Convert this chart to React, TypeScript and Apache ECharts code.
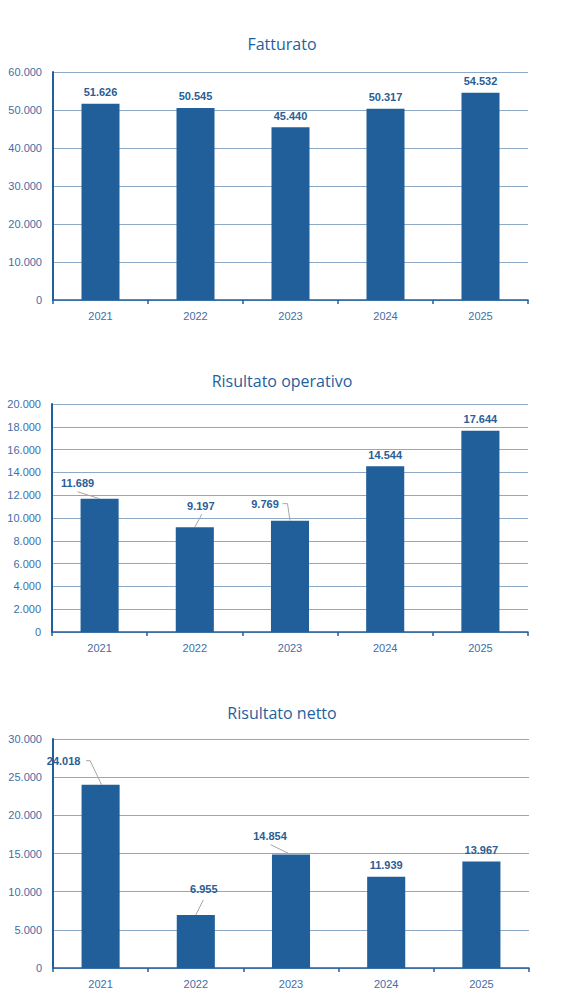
import React, { useEffect, useRef } from "react";
import * as echarts from "echarts";

const years = ["2021", "2022", "2023", "2024", "2025"];
const fatturato = [51626, 50545, 45440, 50317, 54532];
const risultatoOperativo = [11689, 9197, 9769, 14544, 17644];
const risultatoNetto = [24018, 6955, 14854, 11939, 13967];
const titles = ["Fatturato", "Risultato operativo", "Risultato netto"];
const axisMax = [60000, 20000, 30000];
const axisInterval = [10000, 2000, 5000];

// label offsets (dx, dy) for moved labels; null = default position
const labelOffsets: (number[] | null)[][] = [
  [null, null, null, null, null],
  [[-22, -4], [6, -10], [-25, -5], null, null],
  [[-37, -12], [8, -14], [-21, -7], null, null],
];
// leader line points, relative to the bar's top centre
const leaderPoints: (number[][] | null)[][] = [
  [null, null, null, null, null],
  [[[-22, -7], [0, 0]], [[7, -13], [0, 0]], [[-7.5, -17], [-2.5, -17], [0, 0]], null, null],
  [[[-14.5, -24], [-10.5, -24], [1, 0]], [[7.5, -15], [0, 0]], [[-20.5, -10], [0, 0]], null, null],
];

const BAR = "#215f9a";
const AXIS = "#215f9a";
const GRID = "#8ea9c6";
const TXT = "#3f6ea6";

const fmt = (v: number) =>
  String(Math.round(v)).replace(/\B(?=(\d{3})+(?!\d))/g, ".");

export default function App() {
  const ref = useRef<HTMLDivElement>(null);
  useEffect(() => {
    const chart = echarts.init(ref.current!, null, { renderer: "svg" });
    const grids = [
      { left: 53, right: 51, top: 72, bottom: 706 },
      { left: 52, right: 51, top: 404, bottom: 374 },
      { left: 53, right: 50, top: 739, bottom: 38 },
    ];
    const titleTops = [31, 368, 700];
    const seriesData = [fatturato, risultatoOperativo, risultatoNetto];
    const barSeries = seriesData.map((arr, i) => ({
      type: "bar",
      xAxisIndex: i,
      yAxisIndex: i,
      barWidth: "40%",
      itemStyle: { color: BAR },
      data: arr,
      label: {
        show: true,
        position: "top",
        distance: 6,
        color: "#2a5e96",
        fontFamily: "Liberation Sans",
        fontWeight: "bold",
        fontSize: 11,
        formatter: (p: any) => fmt(p.value),
      },
      labelLayout: (p: any) => {
        const o = labelOffsets[i][p.dataIndex];
        return o ? { dx: o[0], dy: o[1] } : {};
      },
    }));
    const leaderSeries = seriesData.map((arr, i) => ({
      type: "custom",
      xAxisIndex: i,
      yAxisIndex: i,
      silent: true,
      z: 3,
      data: arr
        .map((v, j) => [j, v])
        .filter((d) => !!leaderPoints[i][d[0]]),
      renderItem: (params: any, api: any) => {
        const idx = api.value(0);
        const pts = leaderPoints[i][idx]!;
        const c = api.coord([idx, api.value(1)]);
        return {
          type: "polyline",
          shape: { points: pts.map((p) => [c[0] + p[0], c[1] + p[1]]) },
          style: { stroke: "#a6a6a6", lineWidth: 1, fill: null },
        };
      },
    }));
    const option: any = {
      animation: false,
      title: titles.map((t, i) => ({
        text: t,
        left: 277,
        top: titleTops[i],
        textAlign: "center",
        textStyle: {
          fontFamily: "Open Sans",
          fontSize: 16,
          fontWeight: "normal",
          color: "#1f5f9e",
        },
      })),
      grid: grids.map((g) => ({ ...g, containLabel: false })),
      xAxis: grids.map((_, i) => ({
        type: "category",
        gridIndex: i,
        data: years,
        axisLine: { show: true, lineStyle: { color: AXIS, width: 1.5 } },
        axisTick: {
          show: true,
          alignWithLabel: false,
          length: 4,
          lineStyle: { color: AXIS, width: 1.5 },
        },
        axisLabel: {
          color: TXT,
          fontFamily: "Liberation Sans",
          fontSize: 11,
          margin: 10,
        },
      })),
      yAxis: grids.map((_, i) => ({
        type: "value",
        gridIndex: i,
        min: 0,
        max: axisMax[i],
        interval: axisInterval[i],
        axisLine: { show: true, lineStyle: { color: AXIS, width: 2 } },
        axisTick: { show: false },
        splitLine: { show: true, lineStyle: { color: GRID, width: 1 } },
        axisLabel: {
          color: TXT,
          fontFamily: "Liberation Sans",
          fontSize: 11,
          margin: 11,
          formatter: (v: number) => fmt(v),
        },
      })),
      series: [...barSeries, ...leaderSeries],
    };
    chart.setOption(option);
    return () => chart.dispose();
  }, []);
  return (
    <div
      ref={ref}
      style={{
        position: "fixed",
        left: 0,
        top: 0,
        width: 579,
        height: 1006,
        background: "#fff",
      }}
    />
  );
}
